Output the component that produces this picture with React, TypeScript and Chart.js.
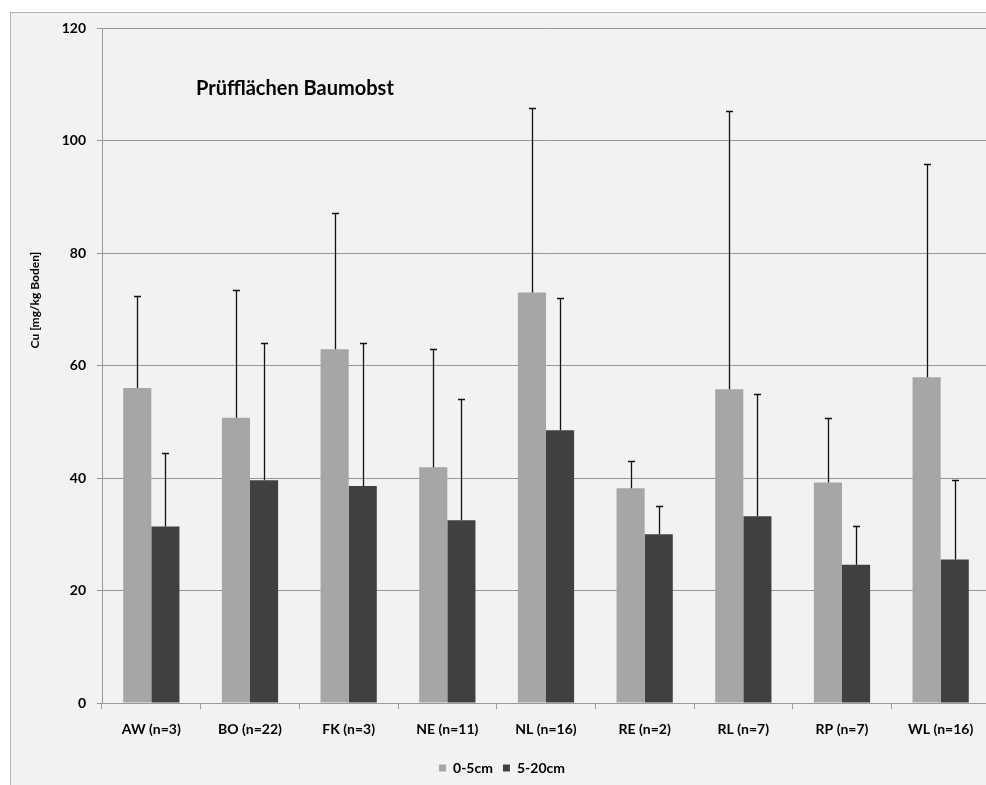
import React, { useEffect, useRef } from "react";
import { Chart, registerables } from "chart.js";

Chart.register(...registerables);

const categories = [
  "AW (n=3)",
  "BO (n=22)",
  "FK (n=3)",
  "NE (n=11)",
  "NL (n=16)",
  "RE (n=2)",
  "RL (n=7)",
  "RP (n=7)",
  "WL (n=16)",
];
const topsoilLabel = "0-5cm";
const subsoilLabel = "5-20cm";
const topsoilMeans = [56.0, 50.7, 62.9, 41.9, 73.0, 38.2, 55.8, 39.2, 57.9];
const topsoilSD = [16.4, 22.8, 24.3, 21.1, 32.8, 4.8, 49.4, 11.5, 37.9];
const subsoilMeans = [31.4, 39.6, 38.6, 32.5, 48.5, 30.0, 33.2, 24.6, 25.5];
const subsoilSD = [13.0, 24.4, 25.4, 21.6, 23.5, 5.0, 21.8, 6.9, 14.1];
const yMin = 0;
const yMax = 120;
const yStep = 20;
const chartTitle = "Prüfflächen Baumobst";
const yAxisTitle = "Cu [mg/kg Boden]";

const FONT = "Lato, 'Open Sans', 'DejaVu Sans', sans-serif";

const framePlugin = {
  id: "frameAndLabels",
  beforeDraw(chart: any) {
    const { ctx, width, height } = chart;
    ctx.save();
    ctx.fillStyle = "#ffffff";
    ctx.fillRect(0, 0, width, height);
    ctx.fillStyle = "#f2f2f2";
    ctx.fillRect(10, 12, width, height);
    ctx.strokeStyle = "#b4b4b4";
    ctx.lineWidth = 1;
    ctx.strokeRect(10.5, 12.5, width + 20, height + 20);
    ctx.restore();
  },
  afterDatasetsDraw(chart: any) {
    const { ctx } = chart;
    const yScale = chart.scales.y;
    ctx.save();
    ctx.strokeStyle = "#111111";
    ctx.lineWidth = 1.3;
    chart.data.datasets.forEach((ds: any, i: number) => {
      const meta = chart.getDatasetMeta(i);
      meta.data.forEach((bar: any, j: number) => {
        const x = Math.round(bar.x) + 0.5;
        const top = Math.round(yScale.getPixelForValue(ds.data[j] + ds.errors[j])) + 0.5;
        ctx.beginPath();
        ctx.moveTo(x, bar.y);
        ctx.lineTo(x, top);
        ctx.moveTo(x - 3.5, top);
        ctx.lineTo(x + 3.5, top);
        ctx.stroke();
      });
    });
    ctx.restore();
  },
  afterDraw(chart: any) {
    const { ctx, chartArea } = chart;
    ctx.save();
    ctx.fillStyle = "#000000";
    ctx.font = `bold 20px ${FONT}`;
    ctx.textAlign = "left";
    ctx.textBaseline = "alphabetic";
    ctx.fillText(chartTitle, chartArea.left + 94, chartArea.top + 67);
    ctx.translate(35, chartArea.top + 272);
    ctx.rotate(-Math.PI / 2);
    ctx.font = `bold 12px ${FONT}`;
    ctx.textAlign = "center";
    ctx.textBaseline = "middle";
    ctx.fillText(yAxisTitle, 0, 0);
    ctx.restore();
  },
};

export default function App() {
  const canvasRef = useRef<HTMLCanvasElement | null>(null);

  useEffect(() => {
    const canvas = canvasRef.current;
    if (!canvas) return;
    const chart = new Chart(canvas, {
      type: "bar",
      data: {
        labels: categories,
        datasets: [
          {
            label: topsoilLabel,
            data: topsoilMeans,
            errors: topsoilSD,
            backgroundColor: "#a6a6a6",
            borderWidth: 0,
          } as any,
          {
            label: subsoilLabel,
            data: subsoilMeans,
            errors: subsoilSD,
            backgroundColor: "#404040",
            borderWidth: 0,
          } as any,
        ],
      },
      options: {
        responsive: false,
        devicePixelRatio: 1,
        animation: false,
        datasets: {
          bar: { categoryPercentage: 0.57, barPercentage: 1 },
        },
        layout: { padding: { left: 14, right: 10, top: 28, bottom: 15 } },
        plugins: {
          legend: {
            display: true,
            position: "bottom",
            labels: {
              boxWidth: 7,
              boxHeight: 7,
              padding: 10,
              color: "#000000",
              font: { family: FONT, size: 14, weight: "bold" },
            },
          },
          title: { display: false },
          tooltip: { enabled: false },
        },
        scales: {
          x: {
            grid: {
              display: true,
              drawOnChartArea: false,
              drawTicks: true,
              tickLength: 6,
              color: "#9a9a9a",
              offset: true,
            },
            border: { display: true, color: "#9a9a9a", width: 1 },
            ticks: {
              color: "#000000",
              font: { family: FONT, size: 14, weight: "bold" },
              padding: 12,
              maxRotation: 0,
              autoSkip: false,
            },
            afterFit: (scale: any) => {
              scale.height = 48;
            },
          },
          y: {
            min: yMin,
            max: yMax,
            grid: {
              display: true,
              color: "#969696",
              tickLength: 5,
              lineWidth: 1,
            },
            border: { display: true, color: "#9a9a9a", width: 1 },
            ticks: {
              stepSize: yStep,
              color: "#000000",
              font: { family: FONT, size: 14, weight: "bold" },
              padding: 11,
            },
            afterFit: (scale: any) => {
              scale.width = 88;
            },
          },
        },
      },
      plugins: [framePlugin],
    });
    return () => chart.destroy();
  }, []);

  return (
    <div
      style={{
        position: "fixed",
        left: 0,
        top: 0,
        width: 986,
        height: 785,
        overflow: "hidden",
        background: "#ffffff",
      }}
    >
      <canvas
        ref={canvasRef}
        width={1000}
        height={800}
        style={{ display: "block", width: 1000, height: 800 }}
      />
    </div>
  );
}
